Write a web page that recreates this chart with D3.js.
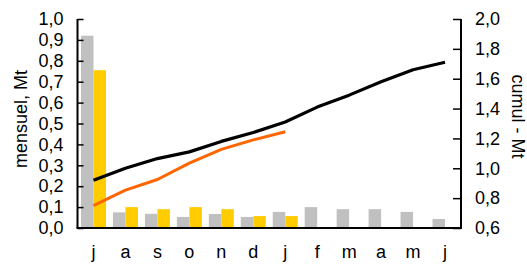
<!DOCTYPE html>
<html>
<head>
<meta charset="utf-8">
<script src="https://cdn.jsdelivr.net/npm/d3@7"></script>
<style>
  html, body { margin: 0; padding: 0; background: #fff; }
  svg { display: block; }
  text { font-family: "Liberation Sans", Arial, sans-serif; fill: #000; }
</style>
</head>
<body>
<svg id="chart" width="527" height="264"></svg>
<script>
const months = ["j", "a", "s", "o", "n", "d", "j", "f", "m", "a", "m", "j"];
const grayBars = [0.92, 0.075, 0.068, 0.053, 0.067, 0.053, 0.077, 0.10, 0.09, 0.09, 0.077, 0.043];
const yellowBars = [0.755, 0.10, 0.09, 0.10, 0.09, 0.057, 0.057];
const blackCumul = [0.92, 1.0, 1.065, 1.11, 1.18, 1.24, 1.31, 1.41, 1.49, 1.58, 1.66, 1.71];
const orangeCumul = [0.75, 0.854, 0.925, 1.035, 1.127, 1.19, 1.245];
const leftTicks = [0, 0.1, 0.2, 0.3, 0.4, 0.5, 0.6, 0.7, 0.8, 0.9, 1.0];
const rightTicks = [0.6, 0.8, 1.0, 1.2, 1.4, 1.6, 1.8, 2.0];

(function () {
const svg = d3.select("#chart");
const pLeft = 77.5, pRight = 461, pTop = 19, pBottom = 228;
const fmt = d => d3.format(".1f")(d).replace(".", ",");

const x = d3.scaleBand().domain(d3.range(months.length)).range([pLeft, pRight]).paddingInner(0).paddingOuter(0);
const yL = d3.scaleLinear().domain([0, 1]).range([pBottom, pTop]);
const yR = d3.scaleLinear().domain([0.6, 2.0]).range([pBottom, pTop]);
const barW = 12.5;
const cx = i => x(i) + x.bandwidth() / 2;

// bars
svg.append("g").selectAll("rect").data(grayBars).join("rect")
  .attr("x", (d, i) => cx(i) - barW)
  .attr("y", d => yL(d))
  .attr("width", barW)
  .attr("height", d => yL(0) - yL(d))
  .attr("fill", "#C0C0C0");
svg.append("g").selectAll("rect").data(yellowBars).join("rect")
  .attr("x", (d, i) => cx(i))
  .attr("y", d => yL(d))
  .attr("width", barW)
  .attr("height", d => yL(0) - yL(d))
  .attr("fill", "#FFCC00");

// lines
const line = d3.line().x((d, i) => cx(i)).y(d => yR(d));
svg.append("path").datum(orangeCumul).attr("d", line)
  .attr("fill", "none").attr("stroke", "#FF6600").attr("stroke-width", 3).attr("stroke-linejoin", "round");
svg.append("path").datum(blackCumul).attr("d", line)
  .attr("fill", "none").attr("stroke", "#000").attr("stroke-width", 3.2).attr("stroke-linejoin", "round");

// left axis
const gL = svg.append("g").attr("transform", `translate(${pLeft},0)`)
  .call(d3.axisRight(yL).tickValues(leftTicks).tickFormat(fmt).tickSize(6));
gL.select(".domain").attr("stroke", "#000").attr("stroke-width", 2).attr("d", `M0,${pTop}V${pBottom}`);
gL.selectAll(".tick line").attr("stroke", "#000").attr("stroke-width", 1.5);
gL.selectAll(".tick text").attr("x", -14).attr("text-anchor", "end").attr("font-size", 18).attr("font-family", "Liberation Sans, Arial, sans-serif");

// right axis
const gR = svg.append("g").attr("transform", `translate(${pRight},0)`)
  .call(d3.axisLeft(yR).tickValues(rightTicks).tickFormat(fmt).tickSize(8));
gR.select(".domain").attr("stroke", "#000").attr("stroke-width", 2).attr("d", `M0,${pTop}V${pBottom}`);
gR.selectAll(".tick line").attr("stroke", "#000").attr("stroke-width", 1.5);
gR.selectAll(".tick text").attr("x", 14).attr("text-anchor", "start").attr("font-size", 18).attr("font-family", "Liberation Sans, Arial, sans-serif");

// bottom axis
const gB = svg.append("g").attr("transform", `translate(0,${pBottom})`)
  .call(d3.axisBottom(x).tickFormat(i => months[i]).tickSize(0).tickPadding(17));
gB.select(".domain").attr("stroke", "#000").attr("stroke-width", 2).attr("d", `M${pLeft - 1},0H${pRight + 1}`);
gB.selectAll(".tick text").attr("font-size", 18).attr("font-family", "Liberation Sans, Arial, sans-serif");

// axis titles
svg.append("text").attr("transform", `translate(27,119) rotate(-90)`)
  .attr("text-anchor", "middle").attr("font-size", 18).text("mensuel, Mt");
svg.append("text").attr("transform", `translate(511.5,116.5) rotate(90)`)
  .attr("text-anchor", "middle").attr("font-size", 18).text("cumul - Mt");
})();
</script>
</body>
</html>
